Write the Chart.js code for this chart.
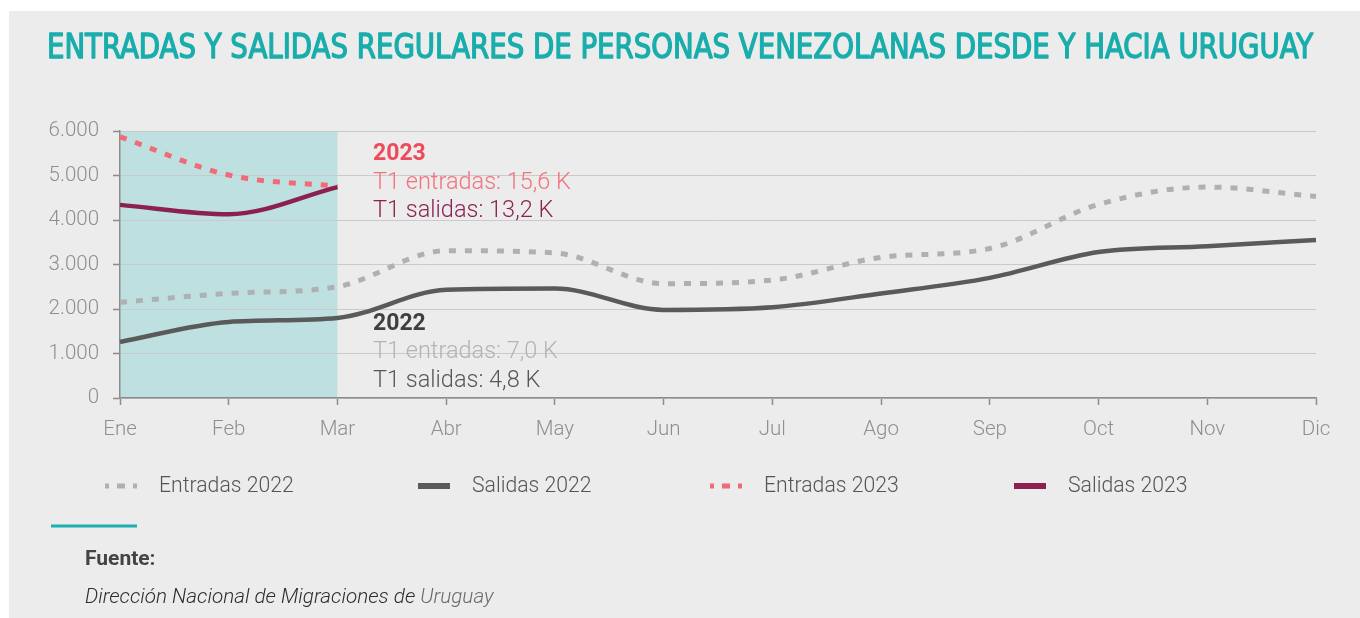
<!DOCTYPE html>
<html><head><meta charset="utf-8">
<script src="https://cdn.jsdelivr.net/npm/chart.js@4.4.1/dist/chart.umd.min.js"></script>
<style>
html,body{margin:0;padding:0;background:#fff;width:1360px;height:618px;overflow:hidden}
#wrap{position:absolute;left:0;top:0;width:1360px;height:618px}
</style></head><body><div id="wrap"><canvas id="c" width="1360" height="618"></canvas></div>
<script>
const months = ['Ene','Feb','Mar','Abr','May','Jun','Jul','Ago','Sep','Oct','Nov','Dic'];
const entradas2022 = [2150,2350,2500,3310,3260,2570,2650,3160,3360,4350,4740,4530];
const salidas2022  = [1260,1710,1800,2430,2460,1980,2040,2350,2700,3280,3410,3550];
const entradas2023 = [5870,5010,4760];
const salidas2023  = [4340,4130,4740];
const yTicks = [0,1000,2000,3000,4000,5000,6000];
const seriesNames = ['Entradas 2022','Salidas 2022','Entradas 2023','Salidas 2023'];
const notes2023 = ['2023','T1 entradas: 15,6 K','T1 salidas: 13,2 K'];
const notes2022 = ['2022','T1 entradas: 7,0 K','T1 salidas: 4,8 K'];
const highlightRange = ['Ene','Mar'];
const titleText = 'ENTRADAS Y SALIDAS REGULARES DE PERSONAS VENEZOLANAS DESDE Y HACIA URUGUAY';
const sourceLabel = 'Fuente:';
const sourceText = 'Dirección Nacional de Migraciones de ';
const sourceText2 = 'Uruguay';

const C = {
  panel:'#ebeceb', shade:'#bfe0e0', title:'#19adac',
  e22:'#b0b0b2', s22:'#5a5a5a', e23:'#f06b77', s23:'#8c2151',
  grid:'#cacaca', axis:'#8c8c8c', tick:'#8f8f8f', legend:'#555555'
};

const decor = {
  id:'decor',
  beforeDraw(chart){
    const ctx = chart.ctx;
    ctx.save();
    ctx.fillStyle = '#ffffff'; ctx.fillRect(0,0,chart.width,chart.height);
    ctx.fillStyle = C.panel; ctx.fillRect(9,11,chart.width-9,chart.height-11);
    const xs = chart.scales.x, ys = chart.scales.y;
    const x0 = xs.getPixelForValue(months.indexOf(highlightRange[0]));
    const x1 = xs.getPixelForValue(months.indexOf(highlightRange[1]));
    const y0 = ys.getPixelForValue(yTicks[yTicks.length-1]);
    const y1 = ys.getPixelForValue(yTicks[0]);
    ctx.fillStyle = C.shade; ctx.fillRect(x0,y0,x1-x0,y1-y0);
    ctx.restore();
  },
  afterDraw(chart){
    const ctx = chart.ctx;
    ctx.save();
    // title
    ctx.fillStyle = C.title; ctx.strokeStyle = C.title; ctx.lineWidth = 1.3; ctx.lineJoin='round';
    ctx.font = '33px "DejaVu Sans Condensed", "DejaVu Sans"';
    ctx.textBaseline = 'alphabetic';
    const tw = ctx.measureText(titleText).width;
    ctx.translate(47,58); ctx.scale(1266/tw,1);
    ctx.fillText(titleText,0,0);
    ctx.strokeText(titleText,0,0);
    ctx.restore();
    ctx.save();
    // annotations
    const ax = 373;
    const a23 = [[ '700 23px Roboto','#ee4a5a',160],[ '300 23.5px Roboto','#f2737c',189],[ '300 23.5px Roboto','#8c2151',217]];
    notes2023.forEach((t,i)=>{ctx.font=a23[i][0];ctx.fillStyle=a23[i][1];ctx.fillText(t,ax,a23[i][2]);});
    const a22 = [[ '700 23px Roboto','#3f3f3f',330],[ '300 23.5px Roboto','#b3b3b3',358],[ '300 23.5px Roboto','#575757',387]];
    notes2022.forEach((t,i)=>{ctx.font=a22[i][0];ctx.fillStyle=a22[i][1];ctx.fillText(t,ax,a22[i][2]);});
    // legend
    const legX = [105,418,710,1014];
    const ly = 486;
    chart.data.datasets.forEach((ds,i)=>{
      const x = legX[i];
      ctx.save();
      ctx.strokeStyle = ds.borderColor;
      ctx.lineWidth = ds.borderDash ? 5 : 6;
      ctx.lineCap = 'butt';
      if (ds.borderDash){ ctx.setLineDash([8,8]); ctx.lineDashOffset = 4; }
      ctx.beginPath(); ctx.moveTo(x,ly); ctx.lineTo(x+32,ly); ctx.stroke();
      ctx.restore();
      ctx.font = '300 21.2px Roboto'; ctx.fillStyle = C.legend; ctx.textBaseline='middle';
      ctx.fillText(ds.label, x+54, ly+1);
    });
    // footer
    ctx.textBaseline='alphabetic';
    ctx.strokeStyle = '#1db0b0'; ctx.lineWidth = 3;
    ctx.beginPath(); ctx.moveTo(51,526); ctx.lineTo(137,526); ctx.stroke();
    ctx.font = '700 21px Roboto'; ctx.fillStyle = '#444444';
    ctx.fillText(sourceLabel,85,565);
    ctx.font = 'italic 300 20.7px Roboto'; ctx.fillStyle = '#2e2e2e';
    ctx.fillText(sourceText,85,603);
    const w = ctx.measureText(sourceText).width;
    ctx.fillStyle = '#6a6a6a';
    ctx.fillText(sourceText2,85+w,603);
    ctx.restore();
  }
};

const mk = (label,data,color,dashed,order)=>({
  label, data, borderColor:color, backgroundColor:color,
  borderWidth: dashed?5:4.5, borderDash: dashed?[7,9]:undefined,
  borderCapStyle:'butt', pointRadius:0, pointHoverRadius:0,
  cubicInterpolationMode:'monotone', fill:false, order
});

new Chart(document.getElementById('c'),{
  type:'line',
  data:{ labels:months, datasets:[
    mk(seriesNames[0],entradas2022,C.e22,true,4),
    mk(seriesNames[1],salidas2022,C.s22,false,3),
    mk(seriesNames[2],entradas2023,C.e23,true,2),
    mk(seriesNames[3],salidas2023,C.s23,false,1)
  ]},
  options:{
    responsive:false, animation:false, devicePixelRatio:1,
    layout:{padding:{top:131,right:44,bottom:0,left:0}},
    plugins:{legend:{display:false},tooltip:{enabled:false},title:{display:false}},
    scales:{
      x:{
        grid:{drawOnChartArea:false,drawTicks:true,tickLength:7,tickColor:C.axis,tickWidth:1.5},
        border:{display:true,color:C.axis,width:1.5},
        ticks:{font:{family:'Roboto',size:20.5,weight:300},color:C.tick,padding:13,maxRotation:0,autoSkip:false},
        afterFit(s){ s.height = 220; }
      },
      y:{
        min:yTicks[0], max:yTicks[yTicks.length-1],
        afterBuildTicks(s){ s.ticks = yTicks.map(v=>({value:v})); },
        grid:{color:C.grid,lineWidth:1,drawTicks:true,tickLength:7,tickColor:C.axis,tickWidth:1.5},
        border:{display:true,color:C.axis,width:1.5},
        ticks:{font:{family:'Roboto',size:20.5,weight:300},color:C.tick,padding:14,
          callback:v=>v.toLocaleString('de-DE')},
        afterFit(s){ s.width = 120; }
      }
    }
  },
  plugins:[decor]
});
</script></body></html>
